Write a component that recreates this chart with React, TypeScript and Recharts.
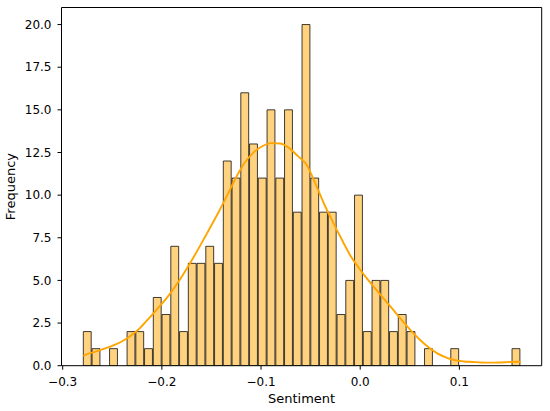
import React from "react";
import { ComposedChart, Bar, Line, XAxis, YAxis, ReferenceLine } from "recharts";

// histogram bins (50 equal bins between the min and max sentiment)
const binStart = -0.2792;
const binWidth = 0.008822;

const counts = [
  2, 1, 0, 1, 0, 2, 2, 1, 4, 3,
  7, 2, 6, 6, 7, 6, 12, 11, 16, 13,
  11, 15, 11, 15, 9, 20, 11, 9, 9, 3,
  5, 10, 2, 5, 5, 2, 3, 2, 0, 1,
  0, 0, 1, 0, 0, 0, 0, 0, 0, 1,
];

// kde curve (scaled to counts) read at each bin centre
const kde = [
  0.69, 0.84, 1.01, 1.2, 1.45, 1.79, 2.22, 2.78, 3.36, 3.95,
  4.64, 5.42, 6.27, 7.17, 8.1, 9.04, 10.04, 11.08, 11.94, 12.52,
  12.88, 13.05, 13.03, 12.77, 12.3, 11.8, 10.71, 9.51, 8.45, 7.44,
  6.48, 5.73, 5.06, 4.44, 3.83, 3.23, 2.61, 2.03, 1.51, 1.06,
  0.71, 0.48, 0.32, 0.25, 0.22, 0.19, 0.18, 0.19, 0.21, 0.23,
];
const kdeAtMin = 0.58;
const kdeAtMax = 0.23;

const xTicks = [-0.3, -0.2, -0.1, 0.0, 0.1];
const yTicks = [0, 2.5, 5, 7.5, 10, 12.5, 15, 17.5, 20];

const X_DOMAIN: [number, number] = [-0.3012, 0.183];
const Y_DOMAIN: [number, number] = [0, 21];

const binRows = counts.map((c, i) => ({ x: binStart + binWidth * (i + 0.5), count: c }));
const kdeRows = [
  { x: binStart, kde: kdeAtMin },
  ...kde.map((k, i) => ({ x: binStart + binWidth * (i + 0.5), kde: k })),
  { x: binStart + binWidth * counts.length, kde: kdeAtMax },
];

const FONT = "DejaVu Sans, sans-serif";
const tickStyle = { fill: "#000", fontSize: 12, fontFamily: FONT };

const fmtX = (v: number) => (v < 0 ? "\u2212" : "") + Math.abs(v).toFixed(1);

const FreqLabel = ({ viewBox }: any) => {
  const cx = (viewBox?.x ?? 0) + 10.5;
  const cy = (viewBox?.y ?? 0) + (viewBox?.height ?? 0) / 2;
  return (
    <text
      x={cx}
      y={cy}
      transform={`rotate(-90 ${cx} ${cy})`}
      textAnchor="middle"
      dominantBaseline="central"
      fill="#000"
      fontSize={13}
      fontFamily={FONT}
    >
      Frequency
    </text>
  );
};

export default function App() {
  return (
    <div style={{ position: "absolute", left: 0, top: 0, width: 550, height: 411, background: "#fff" }}>
      <ComposedChart
        width={550}
        height={411}
        data={binRows}
        margin={{ top: 7.5, right: 8.3, left: 0, bottom: 0 }}
        barGap={0}
        barCategoryGap={0}
      >
        <XAxis
          dataKey="x"
          type="number"
          domain={X_DOMAIN}
          allowDataOverflow
          ticks={xTicks}
          tickFormatter={fmtX}
          height={45.3}
          tickSize={4}
          tickMargin={8}
          axisLine={{ stroke: "#000" }}
          tickLine={{ stroke: "#000" }}
          tick={tickStyle}
          label={{ value: "Sentiment", position: "insideBottom", offset: 7.7, fill: "#000", fontSize: 13, fontFamily: FONT }}
        />
        <XAxis xAxisId="kde" dataKey="x" type="number" domain={X_DOMAIN} allowDataOverflow hide />
        <YAxis
          type="number"
          domain={Y_DOMAIN}
          allowDataOverflow
          ticks={yTicks}
          tickFormatter={(v: number) => v.toFixed(1)}
          width={61.5}
          tickSize={4}
          tickMargin={6}
          axisLine={{ stroke: "#000" }}
          tickLine={{ stroke: "#000" }}
          tick={tickStyle}
          label={FreqLabel}
        />
        <ReferenceLine x={X_DOMAIN[1]} stroke="#000" ifOverflow="extendDomain" />
        <ReferenceLine y={Y_DOMAIN[1]} stroke="#000" ifOverflow="extendDomain" />
        <Bar
          dataKey="count"
          barSize={8.75}
          fill="#FFD27F"
          stroke="rgba(0,0,0,0.75)"
          strokeWidth={1}
          isAnimationActive={false}
        />
        <Line
          xAxisId="kde"
          data={kdeRows}
          dataKey="kde"
          type="monotone"
          stroke="#FFA500"
          strokeWidth={1.9}
          dot={false}
          activeDot={false}
          isAnimationActive={false}
        />
      </ComposedChart>
    </div>
  );
}
